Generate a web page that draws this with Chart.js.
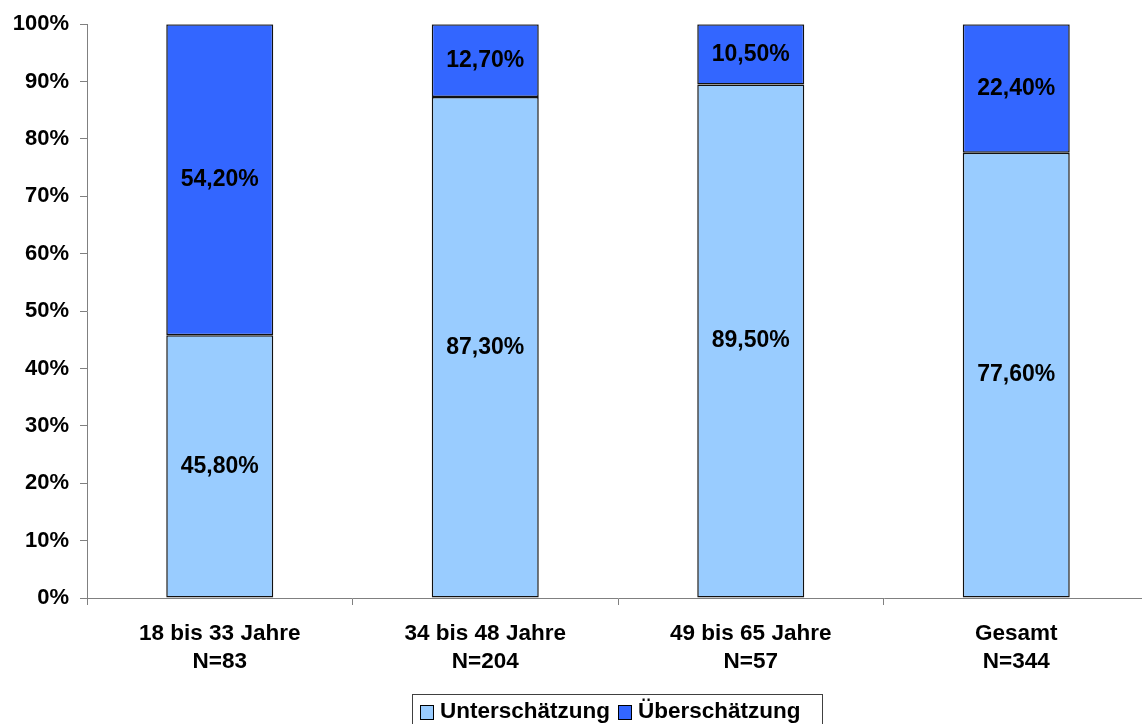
<!DOCTYPE html>
<html lang="de">
<head>
  <meta charset="UTF-8">
  <title>Unterschätzung / Überschätzung</title>
  <style>
    body {
      margin: 0;
      background: #fff;
      overflow: hidden;
      font-family: "Liberation Sans", Arial, sans-serif;
    }
    .chart-box {
      position: relative;
      width: 1150px;
      height: 724px;
    }
    .legend {
      position: absolute;
      left: 412px;
      top: 694px;
      width: 411px;
      height: 40px;
      border: 1px solid #404040;
      box-sizing: border-box;
      font-weight: bold;
      font-size: 22.5px;
      color: #000;
      display: flex;
      align-items: flex-start;
      padding: 3px 0 0 7px;
      white-space: nowrap;
    }
    .legend span.sq {
      display: inline-block;
      width: 12px;
      height: 13px;
      border: 1px solid #000;
      margin: 7px 6px 0 0;
    }
    .legend .item { display: flex; margin-right: 8px; }
  </style>
  <script src="https://cdn.jsdelivr.net/npm/chart.js"></script>
</head>
<body>
  <div class="chart-box">
    <canvas id="chart"></canvas>
    <div class="legend">
      <div class="item"><span class="sq" style="background:#99CCFF"></span>Unterschätzung</div>
      <div class="item"><span class="sq" style="background:#3366FF"></span>Überschätzung</div>
    </div>
  </div>

  <script>
    const categories = [['18 bis 33 Jahre', 'N=83'], ['34 bis 48 Jahre', 'N=204'], ['49 bis 65 Jahre', 'N=57'], ['Gesamt', 'N=344']];
    const unterschaetzung = [45.8, 87.3, 89.5, 77.6];
    const ueberschaetzung = [54.2, 12.7, 10.5, 22.4];
    const yTicks = [0, 10, 20, 30, 40, 50, 60, 70, 80, 90, 100];

    const fontFamily = '"Liberation Sans", Arial, sans-serif';

    // Werte mittig in die Balken schreiben
    const valueLabels = {
      id: 'valueLabels',
      afterDatasetsDraw(chart) {
        const ctx = chart.ctx;
        ctx.save();
        ctx.font = 'bold 23px ' + fontFamily;
        ctx.fillStyle = '#000';
        ctx.textAlign = 'center';
        ctx.textBaseline = 'middle';
        chart.data.datasets.forEach((ds, i) => {
          chart.getDatasetMeta(i).data.forEach((bar, j) => {
            const y = (bar.y + bar.base) / 2;
            ctx.fillText(ds.data[j].toFixed(2).replace('.', ',') + '%', bar.x, y);
          });
        });
        ctx.restore();
      }
    };

    const ctx = document.getElementById('chart').getContext('2d');
    new Chart(ctx, {
      type: 'bar',
      data: {
        labels: categories,
        datasets: [
          {
            label: 'Unterschätzung',
            data: unterschaetzung,
            backgroundColor: '#99CCFF',
            borderColor: '#111',
            borderWidth: 1.5,
            borderSkipped: false,
            barPercentage: 0.403,
            categoryPercentage: 1
          },
          {
            label: 'Überschätzung',
            data: ueberschaetzung,
            backgroundColor: '#3366FF',
            borderColor: '#111',
            borderWidth: 1.5,
            borderSkipped: false,
            barPercentage: 0.403,
            categoryPercentage: 1
          }
        ]
      },
      options: {
        responsive: true,
        maintainAspectRatio: false,
        animation: false,
        layout: { padding: { top: 20, right: 1, left: 0, bottom: 0 } },
        plugins: {
          legend: { display: false },
          tooltip: { enabled: false }
        },
        scales: {
          x: {
            stacked: true,
            grid: { drawOnChartArea: false, color: '#808080', tickLength: 7, offset: true },
            border: { color: '#808080', width: 1 },
            ticks: {
              color: '#000',
              font: { family: fontFamily, size: 22.5, weight: 'bold', lineHeight: 1.25 },
              padding: 15,
              maxRotation: 0
            },
            afterFit(scale) { scale.height = 126; }
          },
          y: {
            stacked: true,
            min: 0,
            max: 100,
            afterBuildTicks(scale) { scale.ticks = yTicks.map(v => ({ value: v })); },
            grid: { drawOnChartArea: false, color: '#808080', tickLength: 7 },
            border: { color: '#808080', width: 1 },
            ticks: {
              color: '#000',
              font: { family: fontFamily, size: 22, weight: 'bold' },
              padding: 11,
              callback: v => v + '%'
            },
            afterFit(scale) { scale.width = 87; }
          }
        }
      },
      plugins: [valueLabels]
    });
  </script>
</body>
</html>
